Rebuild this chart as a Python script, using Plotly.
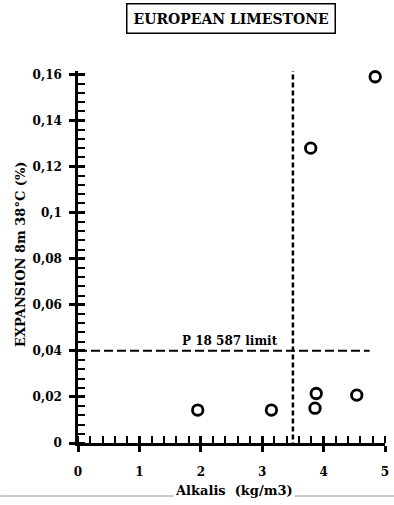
import plotly.graph_objects as go

# Data
alkalis = [1.95, 3.15, 3.79, 3.86, 3.88, 4.54, 4.84]
expansion = [0.0143, 0.0143, 0.128, 0.0151, 0.0215, 0.0208, 0.159]

alkali_limit = 3.5
expansion_limit = 0.04
limit_line_x_end = 4.75
limit_label = "P 18 587 limit"
limit_label_x = 2.47

x_tickvals = [0, 1, 2, 3, 4, 5]
x_ticktext = ["0", "1", "2", "3", "4", "5"]
y_tickvals = [0, 0.02, 0.04, 0.06, 0.08, 0.1, 0.12, 0.14, 0.16]
y_ticktext = ["0", "0,02", "0,04", "0,06", "0,08", "0,1", "0,12", "0,14", "0,16"]

title_text = "EUROPEAN LIMESTONE"
x_title = "Alkalis  (kg/m3)"
y_title = "EXPANSION 8m 38°C (%)"

FONT = "DejaVu Serif, serif"

fig = go.Figure()

# horizontal limit line
fig.add_trace(go.Scatter(
    x=[0, limit_line_x_end], y=[expansion_limit, expansion_limit],
    mode="lines", line=dict(color="black", width=2, dash="9px,4px"),
    hoverinfo="skip", showlegend=False, cliponaxis=False))
# vertical limit line
fig.add_trace(go.Scatter(
    x=[alkali_limit, alkali_limit], y=[-0.002, 0.162],
    mode="lines", line=dict(color="black", width=2.5, dash="5px,3px"),
    hoverinfo="skip", showlegend=False, cliponaxis=False))
# data points
fig.add_trace(go.Scatter(
    x=alkalis, y=expansion, mode="markers",
    marker=dict(symbol="circle-open", size=10.5, color="black", line=dict(width=2.8)),
    showlegend=False, cliponaxis=False))
# invisible trace for overlay axes
fig.add_trace(go.Scatter(x=[0], y=[0], xaxis="x2", yaxis="y2", mode="markers",
                         marker=dict(opacity=0), showlegend=False, hoverinfo="skip"))

tickfont = dict(family=FONT, size=12, color="black", weight="bold")

fig.update_layout(
    width=394, height=505,
    margin=dict(l=78, r=9, t=71, b=62),
    paper_bgcolor="white", plot_bgcolor="white",
    xaxis=dict(range=[0, 5.0], showgrid=False, zeroline=False, automargin=False,
               showline=True, linecolor="black", linewidth=2.5,
               tickvals=x_tickvals, ticktext=x_ticktext,
               ticks="outside", ticklen=6, tickwidth=2.5, tickcolor="black",
               tickfont=tickfont, ticklabelstandoff=10,
               minor=dict(ticks="inside", dtick=0.2, ticklen=7, tickwidth=2, tickcolor="black")),
    yaxis=dict(range=[0, 0.1615], showgrid=False, zeroline=False, automargin=False,
               showline=True, linecolor="black", linewidth=2.5,
               tickvals=y_tickvals, ticktext=y_ticktext,
               ticks="outside", ticklen=6, tickwidth=2.5, tickcolor="black",
               tickfont=tickfont, ticklabelstandoff=5,
               minor=dict(ticks="inside", dtick=0.004, ticklen=7, tickwidth=2, tickcolor="black")),
    xaxis2=dict(overlaying="x", matches="x", anchor="y", showgrid=False, zeroline=False,
                automargin=False,
                showline=False, tickvals=x_tickvals, ticks="inside", ticklen=7,
                tickwidth=2.5, tickcolor="black", showticklabels=False),
    yaxis2=dict(overlaying="y", matches="y", anchor="x", showgrid=False, zeroline=False,
                automargin=False,
                showline=False, tickvals=y_tickvals, ticks="inside", ticklen=7,
                tickwidth=2.5, tickcolor="black", showticklabels=False),
    annotations=[
        dict(text=title_text, x=0.498, y=1.141, xref="paper", yref="paper",
             xanchor="center", yanchor="middle", showarrow=False,
             font=dict(family=FONT, size=14, color="black", weight="bold"),
             bordercolor="black", borderwidth=1.5, borderpad=6, bgcolor="white"),
        dict(text=limit_label, x=limit_label_x, y=expansion_limit, xref="x", yref="y",
             xanchor="center", yanchor="bottom", yshift=1, showarrow=False,
             font=dict(family=FONT, size=12, color="black", weight="bold")),
        dict(text=x_title, x=0.508, y=-0.129, xref="paper", yref="paper",
             xanchor="center", yanchor="middle", showarrow=False, bgcolor="white",
             font=dict(family=FONT, size=13, color="black", weight="bold")),
        dict(text=y_title, x=-0.189, y=0.508, xref="paper", yref="paper",
             xanchor="center", yanchor="middle", textangle=-90, showarrow=False,
             font=dict(family=FONT, size=13, color="black", weight="bold")),
    ],
    shapes=[
        dict(type="line", xref="paper", yref="paper", x0=-0.254, x1=1.03,
             y0=-0.1425, y1=-0.1425, line=dict(color="#999999", width=1), layer="below"),
    ],
)

fig.write_html("out.html", config={"displayModeBar": False},
               post_script="document.body.style.margin='0';document.body.style.padding='0';")
